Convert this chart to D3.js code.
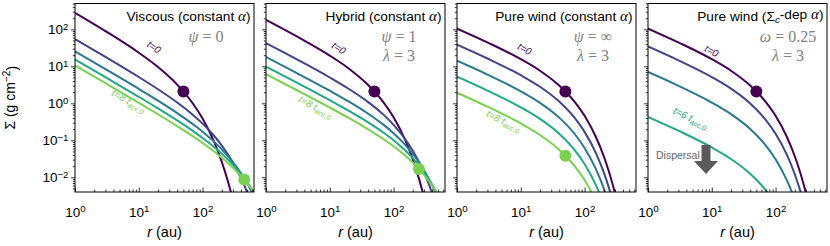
<!DOCTYPE html>
<html><head><meta charset="utf-8">
<script src="https://cdn.jsdelivr.net/npm/d3@7"></script>
<style>body{margin:0;background:#fff}svg{display:block}</style>
</head><body>
<svg id="chart" width="830" height="246"></svg>
<script>
// ---------------- DATA ----------------
const radii = [1, 3, 10, 20, 40, 70, 100, 150, 200, 250, 300, 400, 500, 640];
const timeLabels = ["t=0", "t=2", "t=4", "t=6", "t=8"];

const viscousSigma = [
  [279.9, 89.66, 23.38, 9.572, 3.208, 1.006, 0.3865, 0.0948, 0.02616, 0.007697, 0.00236, 0.000239],
  [54.60, 17.96, 5.141, 2.405, 1.052, 0.4923, 0.2822, 0.1348, 0.07244, 0.04152, 0.02479, 0.009547, 0.003921, 0.001205],
  [25.44, 8.414, 2.454, 1.179, 0.5442, 0.2758, 0.1712, 0.09346, 0.05739, 0.03759, 0.02565, 0.01289, 0.006913, 0.003085],
  [15.38, 5.096, 1.499, 0.7282, 0.3439, 0.1804, 0.1159, 0.06696, 0.04354, 0.03019, 0.02181, 0.01229, 0.007392, 0.003871],
  [10.55, 3.503, 1.0345, 0.5059, 0.2419, 0.1293, 0.0847, 0.05053, 0.03391, 0.02428, 0.0181, 0.01087, 0.006964, 0.003985]
];
const hybridSigma = [
  [180.5, 65.39, 19.52, 8.635, 3.128, 1.044, 0.4175, 0.1072, 0.03053, 0.009214, 0.002884, 0.000302],
  [42.19, 15.59, 4.990, 2.440, 1.079, 0.4864, 0.2625, 0.1111, 0.05219, 0.02596, 0.01339, 0.003817, 0.001152],
  [17.97, 6.685, 2.190, 1.107, 0.5237, 0.2608, 0.1556, 0.07779, 0.04316, 0.02536, 0.01546, 0.006148, 0.002587, 0.000818],
  [9.806, 3.660, 1.213, 0.6236, 0.3049, 0.1597, 0.1001, 0.05441, 0.03281, 0.02096, 0.01388, 0.006524, 0.003245, 0.001294],
  [6.128, 2.292, 0.7650, 0.3972, 0.1981, 0.1069, 0.0691, 0.03945, 0.02501, 0.0168, 0.0117, 0.006074, 0.00334, 0.001532]
];
const windSigma = [
  [105.2, 44.33, 15.63, 7.609, 3.032, 1.0937, 0.4594, 0.1247, 0.03697, 0.0115, 0.003691, 0.000402],
  [38.70, 16.31, 5.749, 2.799, 1.1155, 0.4024, 0.1690, 0.04586, 0.0136, 0.004231, 0.001358, 0.000148],
  [14.24, 6.001, 2.115, 1.0296, 0.4104, 0.148, 0.06217, 0.01687, 0.005003, 0.001557, 0.0005],
  [5.238, 2.208, 0.778, 0.3788, 0.151, 0.05444, 0.02287, 0.006206, 0.00184, 0.000573],
  [1.927, 0.8122, 0.2862, 0.1394, 0.05554, 0.02003, 0.008412, 0.002283, 0.000677]
];
const windDepSigma = [
  [105.2, 44.33, 15.63, 7.609, 3.032, 1.0937, 0.4594, 0.1247, 0.03697, 0.0115, 0.003691, 0.000402],
  [34.40, 14.50, 5.111, 2.488, 0.9915, 0.3576, 0.1502, 0.04078, 0.01209, 0.003761, 0.001207],
  [7.048, 2.970, 1.047, 0.5098, 0.2031, 0.07328, 0.03078, 0.008355, 0.002477, 0.000771],
  [0.4313, 0.1818, 0.06408, 0.0312, 0.01243, 0.004484, 0.001884, 0.000511]
];
// critical-radius markers: [r, Sigma, series index]
const viscousDots = [[50, 2.10, 0], [450, 0.00865, 4]];
const hybridDots = [[50, 2.10, 0], [250, 0.0168, 4]];
const windDots = [[50, 2.10, 0], [50, 0.03846, 4]];
const windDepDots = [[50, 2.10, 0]];

const panelTitles = ["Viscous (constant ", "Hybrid (constant ", "Pure wind (constant ", "Pure wind ("];
const paramLines = [
  [["ψ", " = 0"]],
  [["ψ", " = 1"], ["λ", " = 3"]],
  [["ψ", " = ∞"], ["λ", " = 3"]],
  [["ω", " = 0.25"], ["λ", " = 3"]]
];
const lastLabels = ["8", "8", "8", "6"];

const xDomain = [1, 640];
const yDomain = [4e-3, 5e2];
const xTickValues = [1, 10, 100];
const xTickExps = ["0", "1", "2"];
const yTickValues = [0.01, 0.1, 1, 10, 100];
const yTickExps = ["−2", "−1", "0", "1", "2"];
const xMinor = [2,3,4,5,6,7,8,9,20,30,40,50,60,70,80,90,200,300,400,500,600];
const yMinor = [0.005,0.006,0.007,0.008,0.009,0.02,0.03,0.04,0.05,0.06,0.07,0.08,0.09,
  0.2,0.3,0.4,0.5,0.6,0.7,0.8,0.9,2,3,4,5,6,7,8,9,20,30,40,50,60,70,80,90,200,300,400,500];

// ---------------- LAYOUT / STYLE ----------------
const colors = ["#440154", "#414487", "#2a788e", "#22a884", "#7ad151"];
const M = {left: 75, top: 3.5, panelW: 179, gap: 12, plotH: 188.5};
const sans = "'Liberation Sans', Arial, sans-serif";
const serif = "'Liberation Serif', 'Times New Roman', serif";
const annot = [
  {t0: [77, 50, 35], tEnd: [52, 104, 29], params: 131},
  {t0: [71, 51, 33], tEnd: [48, 110, 28], params: 133},
  {t0: [66, 52, 29], tEnd: [45, 124, 26], params: 136},
  {t0: [62, 54, 28], tEnd: [41, 121, 26], params: 140}
];

const panels = [
  {series: viscousSigma, dots: viscousDots},
  {series: hybridSigma, dots: hybridDots},
  {series: windSigma, dots: windDots},
  {series: windDepSigma, dots: windDepDots}
];

const svg = d3.select("#chart");
const x = d3.scaleLog().domain(xDomain).range([0, M.panelW]);
const y = d3.scaleLog().domain(yDomain).range([M.plotH, 0]);
const line = d3.line().defined(d => d[1] != null).x(d => x(d[0])).y(d => y(d[1])).curve(d3.curveMonotoneX);

function supLabels(sel, exps) {
  sel.selectAll(".tick text").each(function(d, i) {
    const t = d3.select(this);
    t.text("10");
    t.append("tspan").attr("dy", "-0.45em").attr("font-size", "72%").text(exps[i]);
  });
}

panels.forEach((p, i) => {
  const left = M.left + i * (M.panelW + M.gap);
  const g = svg.append("g").attr("transform", `translate(${left},${M.top})`);
  g.append("clipPath").attr("id", "clip" + i).append("rect")
    .attr("width", M.panelW).attr("height", M.plotH);
  const cg = g.append("g").attr("clip-path", `url(#clip${i})`);
  p.series.forEach((vals, k) => {
    const pts = vals.map((v, j) => [radii[j], v]);
    cg.append("path").attr("d", line(pts)).attr("fill", "none")
      .attr("stroke", colors[k]).attr("stroke-width", 2);
  });
  p.dots.forEach(d => {
    cg.append("circle").attr("cx", x(d[0])).attr("cy", y(d[1])).attr("r", 6).attr("fill", colors[d[2]]);
  });

  // axes
  const xa = g.append("g").attr("transform", `translate(0,${M.plotH})`)
    .call(d3.axisBottom(x).tickValues(xTickValues).tickSizeInner(-4.5).tickSizeOuter(0).tickPadding(15));
  xa.call(s => supLabels(s, xTickExps));
  g.append("g").attr("transform", `translate(0,${M.plotH})`)
    .call(d3.axisBottom(x).tickValues(xMinor).tickSizeInner(-2.5).tickSizeOuter(0).tickFormat(""));
  const ya = g.append("g")
    .call(d3.axisLeft(y).tickValues(yTickValues).tickSizeInner(4).tickSizeOuter(0).tickPadding(2.5));
  if (i === 0) ya.call(s => supLabels(s, yTickExps)); else ya.selectAll(".tick text").remove();
  g.append("g").call(d3.axisLeft(y).tickValues(yMinor).tickSizeInner(2.2).tickSizeOuter(0).tickFormat(""));
  g.selectAll(".domain").remove();
  g.selectAll(".tick line").attr("stroke", "#000").attr("stroke-width", 0.8);
  g.selectAll(".tick text").attr("font-family", sans).attr("font-size", 13.5).attr("fill", "#000");

  g.append("rect").attr("width", M.panelW).attr("height", M.plotH)
    .attr("fill", "none").attr("stroke", "#000").attr("stroke-width", 1);

  // title
  const tt = g.append("text").attr("x", M.panelW - 3.5).attr("y", 17).attr("text-anchor", "end")
    .attr("font-family", sans).attr("font-size", 13.7).attr("fill", "#000");
  tt.append("tspan").text(panelTitles[i]);
  if (i === 3) {
    tt.append("tspan").text("Σ");
    tt.append("tspan").attr("font-style", "italic").attr("font-size", "72%").attr("dy", "0.3em").text("c");
    tt.append("tspan").attr("dy", "-0.3em").text("-dep ");
  }
  tt.append("tspan").attr("font-style", "italic").attr("font-family", serif).attr("font-size", "110%").text("α");
  tt.append("tspan").text(")");

  // parameter lines
  paramLines[i].forEach((pl, j) => {
    const t = g.append("text").attr("x", annot[i].params).attr("y", 38 + j * 19)
      .attr("text-anchor", "middle").attr("font-family", serif).attr("font-size", 16).attr("fill", "#808080");
    t.append("tspan").attr("font-style", "italic").text(pl[0]);
    t.append("tspan").text(pl[1]);
  });

  // curve labels
  const a0 = annot[i].t0;
  g.append("text").attr("transform", `translate(${a0[0]},${a0[1] - M.top}) rotate(${a0[2]})`)
    .attr("text-anchor", "middle").attr("font-family", sans).attr("font-style", "italic")
    .attr("font-size", 10).attr("fill", colors[0]).text(timeLabels[0]);
  const ae = annot[i].tEnd;
  const lastIdx = p.series.length - 1;
  const te = g.append("text").attr("transform", `translate(${ae[0]},${ae[1] - M.top}) rotate(${ae[2]})`)
    .attr("text-anchor", "middle").attr("font-family", sans).attr("font-style", "italic")
    .attr("font-size", 10).attr("fill", colors[lastIdx]);
  te.append("tspan").text(`t=${lastLabels[i]} t`);
  te.append("tspan").attr("dy", "0.3em").attr("font-size", "72%").text("acc,0");

  // x label
  const xl = g.append("text").attr("x", M.panelW / 2).attr("y", 233).attr("text-anchor", "middle")
    .attr("font-family", sans).attr("font-size", 14.5).attr("fill", "#000");
  xl.append("tspan").attr("font-style", "italic").text("r");
  xl.append("tspan").text(" (au)");

  if (i === 3) {
    g.append("text").attr("x", 8).attr("y", 159 - M.top).attr("font-family", sans)
      .attr("font-size", 10.5).attr("fill", "#666").text("Dispersal");
    const cx = 58, w = 4.5, hw = 12, y0 = 145 - M.top, y1 = 161 - M.top, y2 = 174 - M.top;
    g.append("path").attr("d",
      `M${cx - w},${y0}L${cx + w},${y0}L${cx + w},${y1}L${cx + hw},${y1}L${cx},${y2}L${cx - hw},${y1}L${cx - w},${y1}Z`)
      .attr("fill", "#5a5a5a");
  }
});

// y label
const yl = svg.append("text").attr("transform", `translate(15,${M.top + M.plotH / 2}) rotate(-90)`)
  .attr("text-anchor", "middle").attr("font-family", sans).attr("font-size", 14).attr("fill", "#000");
yl.append("tspan").text("Σ (g cm");
yl.append("tspan").attr("dy", "-0.45em").attr("font-size", "72%").text("−2");
yl.append("tspan").attr("dy", "0.45em").text(")");
</script>
</body></html>
